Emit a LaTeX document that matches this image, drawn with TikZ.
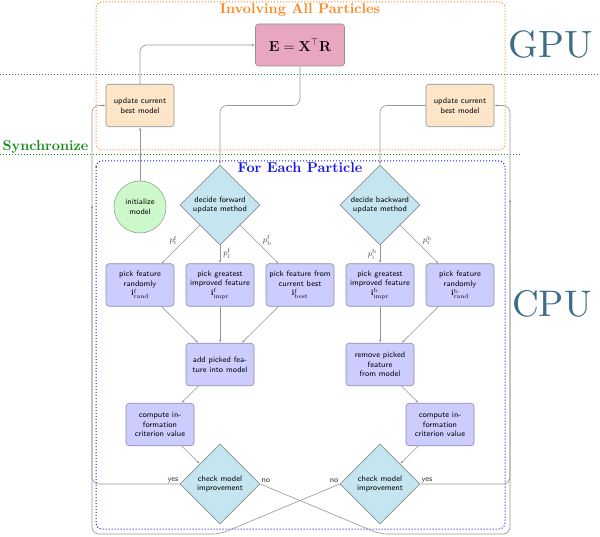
\documentclass[tikz,border=0pt]{standalone}
\usetikzlibrary{shapes.geometric,arrows.meta}
\definecolor{cpublue}{RGB}{62,110,135}
\definecolor{orangeT}{RGB}{255,135,30}
\definecolor{greenT}{RGB}{30,140,30}
\definecolor{blueT}{RGB}{20,20,240}
\definecolor{pinkfill}{RGB}{232,166,192}
\definecolor{updfill}{RGB}{253,229,200}
\definecolor{initfill}{RGB}{204,248,204}
\definecolor{initborder}{RGB}{140,170,140}
\definecolor{decfill}{RGB}{197,230,240}
\definecolor{procfill}{RGB}{204,204,255}
\definecolor{procborder}{RGB}{140,140,175}
\definecolor{bordergray}{RGB}{145,145,145}
\definecolor{linegray}{RGB}{150,150,150}
\tikzset{
  boxtext/.style={font=\fontsize{8}{9.6}\selectfont\sffamily},
  basebox/.style={boxtext, draw=bordergray, rounded corners=3pt, minimum width=68pt, minimum height=42.5pt, inner sep=0pt, align=center, line width=0.6pt},
  updbox/.style={basebox, fill=updfill},
  procbox/.style={basebox, fill=procfill, draw=procborder},
  ebox/.style={basebox, fill=pinkfill, minimum width=89pt, minimum height=42pt, font=\fontsize{14}{16}\selectfont},
  decbox/.style={boxtext, diamond, draw=bordergray, fill=decfill, minimum width=80pt, minimum height=80pt, inner sep=0pt, align=center, line width=0.6pt},
  initbox/.style={boxtext, circle, draw=initborder, fill=initfill, minimum size=52pt, inner sep=0pt, align=center, line width=0.6pt},
  conn/.style={draw=linegray, line width=0.6pt, -{Latex[length=3pt,width=2.2pt]}},
  loopline/.style={conn, rounded corners=7pt},
  plab/.style={font=\fontsize{8}{9}\selectfont, inner sep=0pt, text=black!75},
  ynlab/.style={font=\fontsize{8}{9}\selectfont\sffamily, inner sep=1pt, text=black!80},
  title/.style={font=\fontsize{10}{12}\selectfont\bfseries, anchor=base, inner sep=0pt},
  bigtitle/.style={font=\fontsize{10}{12}\selectfont, text=cpublue, anchor=base, inner sep=0pt},
}
\begin{document}
\begin{tikzpicture}[x=1pt,y=-1pt]
\useasboundingbox (0,0) rectangle (600,537);
% regions
\draw[orangeT, dotted, line width=1pt, rounded corners=6pt] (96,2) rectangle (505,150);
\draw[blueT, dotted, line width=1pt, rounded corners=6pt] (96,161) rectangle (505,529);
\draw[cpublue, dotted, line width=1pt] (0,75) -- (600,75);
\draw[greenT, dotted, line width=1pt] (0,155) -- (520,155);
\node[title, text=orangeT] (tInv) at (300,14) {\scalebox{1.42}{Involving All Particles}};
\node[title, text=blueT] (tEach) at (300,173) {\scalebox{1.42}{For Each Particle}};
\node[title, text=greenT] (tSync) at (45.5,150.5) {\scalebox{1.42}{Synchronize}};
\node[bigtitle] (tGPU) at (550.5,58) {\scalebox{3.8}{GPU}};
\node[bigtitle] (tCPU) at (552,317) {\scalebox{3.7}{CPU}};
% nodes
\node[ebox] (E) at (300,45) {$\mathbf{E}=\mathbf{X}^{\top}\mathbf{R}$};
\node[updbox] (updL) at (140,105.5) {update current\\best model};
\node[updbox] (updR) at (460,105.5) {update current\\best model};
\node[initbox] (init) at (140,207) {initialize\\model};
\node[decbox] (decF) at (220,205) {decide forward\\update method};
\node[decbox] (decB) at (380,205) {decide backward\\update method};
\node[procbox] (randF) at (140,285) {pick feature\\randomly\\$\mathbf{i}^{\mathrm{f}}_{\mathrm{rand}}$};
\node[procbox] (imprF) at (220,285) {pick greatest\\improved feature\\$\mathbf{i}^{\mathrm{f}}_{\mathrm{impr}}$};
\node[procbox] (bestF) at (300,285) {pick feature from\\current best\\$\mathbf{i}^{\mathrm{f}}_{\mathrm{best}}$};
\node[procbox] (imprB) at (380,285) {pick greatest\\improved feature\\$\mathbf{i}^{\mathrm{b}}_{\mathrm{impr}}$};
\node[procbox] (randB) at (460,285) {pick feature\\randomly\\$\mathbf{i}^{\mathrm{b}}_{\mathrm{rand}}$};
\node[procbox] (add) at (220,364.5) {add picked fea-\\ture into model};
\node[procbox] (remove) at (380,364.5) {remove picked\\feature\\from model};
\node[procbox] (compL) at (160,424.5) {compute in-\\formation\\criterion value};
\node[procbox] (compR) at (440,424.5) {compute in-\\formation\\criterion value};
\node[decbox] (chkL) at (220,484) {check model\\improvement};
\node[decbox] (chkR) at (380,484) {check model\\improvement};
% helper coordinates
\coordinate (cE) at (220,105.5);
\coordinate (cYL) at (92,105.5);
\coordinate (cYR) at (510,105.5);
\coordinate (cNLa) at (380,534);
\coordinate (cNLb) at (510,534);
\coordinate (cNLe) at (510,199);
\coordinate (cNRa) at (220,534);
\coordinate (cNRb) at (92,534);
\coordinate (cNRe) at (92,205);
% connectors
\draw[conn] (init) -- (updL);
\draw[loopline] (updL.north) |- (E.west);
\draw[loopline] (E.south) |- (cE) -- (decF.north);
\draw[loopline] (updR.west) -| (decB.north);
\draw[conn] (decF) -- node[plab, pos=0.4, left=7pt] {$p^{\mathrm{f}}_{\mathrm{r}}$} (randF);
\draw[conn] (decF) -- node[plab, pos=0.45, right=3pt] {$p^{\mathrm{f}}_{\mathrm{i}}$} (imprF);
\draw[conn] (decF) -- node[plab, pos=0.4, right=7pt] {$p^{\mathrm{f}}_{\mathrm{b}}$} (bestF);
\draw[conn] (decB) -- node[plab, pos=0.5, left=3pt] {$p^{\mathrm{b}}_{\mathrm{i}}$} (imprB);
\draw[conn] (decB) -- node[plab, pos=0.4, right=7pt] {$p^{\mathrm{b}}_{\mathrm{r}}$} (randB);
\draw[conn] (randF) -- (add);
\draw[conn] (imprF) -- (add);
\draw[conn] (bestF) -- (add);
\draw[conn] (imprB) -- (remove);
\draw[conn] (randB) -- (remove);
\draw[conn] (add) -- (compL);
\draw[conn] (compL) -- (chkL);
\draw[conn] (remove) -- (compR);
\draw[conn] (compR) -- (chkR);
\draw[loopline] (chkL.west) node[ynlab, above left] {yes} -| (cYL) -- (updL.west);
\draw[loopline] (chkR.east) node[ynlab, above right] {yes} -| (cYR) -- (updR.east);
\draw[loopline] (chkL.east) node[ynlab, above right] {no} -- (cNLa) -- (cNLb) -- (cNLe);
\draw[loopline] (chkR.west) node[ynlab, above left] {no} -- (cNRa) -- (cNRb) -- (cNRe);
\end{tikzpicture}
\end{document}
